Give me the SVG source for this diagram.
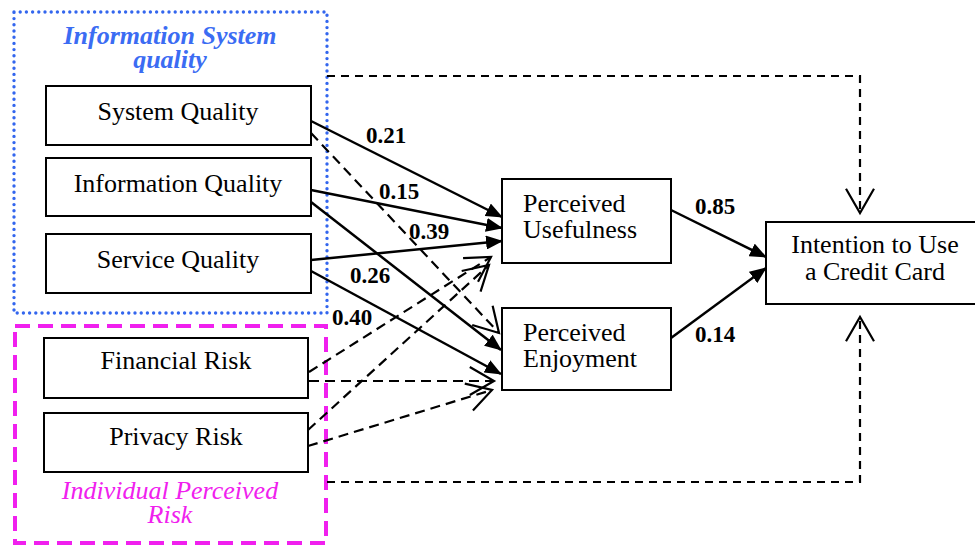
<svg xmlns="http://www.w3.org/2000/svg" width="975" height="546" viewBox="0 0 975 546">
<defs>
<style>
text{font-family:"Liberation Serif","Times New Roman",serif;fill:#000}
.node rect{fill:#fff;stroke:#000;stroke-width:2}
.nt{font-size:26px;text-anchor:middle}
.nl{font-size:26px}
.lbl{font-size:23px;font-weight:bold}
.solid{fill:none;stroke:#000;stroke-width:2.5;marker-end:url(#fill)}
.dash{fill:none;stroke:#000;stroke-width:2.2;stroke-dasharray:10 6;marker-end:url(#open)}
.dash2{fill:none;stroke:#000;stroke-width:2.2;stroke-dasharray:8 6;marker-end:url(#open)}
</style>
<marker id="fill" markerUnits="userSpaceOnUse" viewBox="0 0 17 14" refX="16" refY="7" markerWidth="17" markerHeight="14" orient="auto">
<path d="M0,0 L17,7 L0,14 z" fill="#000"/>
</marker>
<marker id="open" markerUnits="userSpaceOnUse" viewBox="-2 -2 30 32" refX="24.2" refY="14" markerWidth="30" markerHeight="32" orient="auto" overflow="visible">
<path d="M0,0 L24.2,14 L0,28" fill="none" stroke="#000" stroke-width="2.2"/>
</marker>
</defs>
<rect width="975" height="546" fill="#fff"/>

<g id="group-is-quality">
<rect x="14" y="12" width="313" height="301" fill="none" stroke="#3366ee" stroke-width="3.4" stroke-dasharray="0 6.2" stroke-linecap="round"/>
<text x="170" y="44" font-size="26" font-weight="bold" font-style="italic" text-anchor="middle" style="fill:#3b6cf3">Information System</text>
<text x="170" y="68" font-size="26" font-weight="bold" font-style="italic" text-anchor="middle" style="fill:#3b6cf3">quality</text>
</g>

<g id="group-perceived-risk">
<rect x="15" y="326" width="311" height="217" fill="none" stroke="#f020ee" stroke-width="4" stroke-dasharray="15 8"/>
<text x="170" y="499" font-size="26" font-style="italic" text-anchor="middle" style="fill:#f020ee">Individual Perceived</text>
<text x="170" y="523" font-size="26" font-style="italic" text-anchor="middle" style="fill:#f020ee">Risk</text>
</g>

<g id="connectors">
<path class="solid" d="M311,121 L502,217"/>
<path class="solid" d="M311,190 L502,228"/>
<path class="solid" d="M311,260 L502,241"/>
<path class="solid" d="M311,202 L501,350"/>
<path class="solid" d="M311,271 L501,374"/>
<path class="solid" d="M671,210 L766,257"/>
<path class="solid" d="M671,338 L766,268"/>
<path class="dash" d="M311,133 L499,333"/>
<path class="dash" d="M309,372 L491,257"/>
<path class="dash" d="M308,430 L489,265"/>
<path class="dash" d="M309,381 L494,381"/>
<path class="dash" d="M308,446 L492,390"/>
<path class="dash2" d="M327,76 L860,76 L860,213"/>
<path class="dash2" d="M327,482 L860,482 L860,317"/>
</g>

<g id="labels">
<text class="lbl" x="366" y="143">0.21</text>
<text class="lbl" x="379" y="199">0.15</text>
<text class="lbl" x="409" y="239">0.39</text>
<text class="lbl" x="350" y="283">0.26</text>
<text class="lbl" x="332" y="325">0.40</text>
<text class="lbl" x="695" y="214">0.85</text>
<text class="lbl" x="695" y="342">0.14</text>
</g>

<g id="system-quality" class="node">
<rect x="46" y="86" width="265" height="59"/>
<text class="nt" x="178" y="120">System Quality</text>
</g>
<g id="information-quality" class="node">
<rect x="46" y="158" width="265" height="58"/>
<text class="nt" x="178" y="192">Information Quality</text>
</g>
<g id="service-quality" class="node">
<rect x="46" y="234" width="265" height="59"/>
<text class="nt" x="178" y="268">Service Quality</text>
</g>
<g id="financial-risk" class="node">
<rect x="44" y="338" width="264" height="60"/>
<text class="nt" x="176" y="369">Financial Risk</text>
</g>
<g id="privacy-risk" class="node">
<rect x="44" y="413" width="264" height="59"/>
<text class="nt" x="176" y="445">Privacy Risk</text>
</g>
<g id="perceived-usefulness" class="node">
<rect x="502" y="179" width="169" height="84"/>
<text class="nl" x="523" y="212">Perceived</text>
<text class="nl" x="523" y="238">Usefulness</text>
</g>
<g id="perceived-enjoyment" class="node">
<rect x="502" y="308" width="169" height="82"/>
<text class="nl" x="523" y="341">Perceived</text>
<text class="nl" x="523" y="367">Enjoyment</text>
</g>
<g id="intention" class="node">
<rect x="766" y="222" width="222" height="82"/>
<text class="nt" x="875" y="253">Intention to Use</text>
<text class="nt" x="875" y="280">a Credit Card</text>
</g>
</svg>
